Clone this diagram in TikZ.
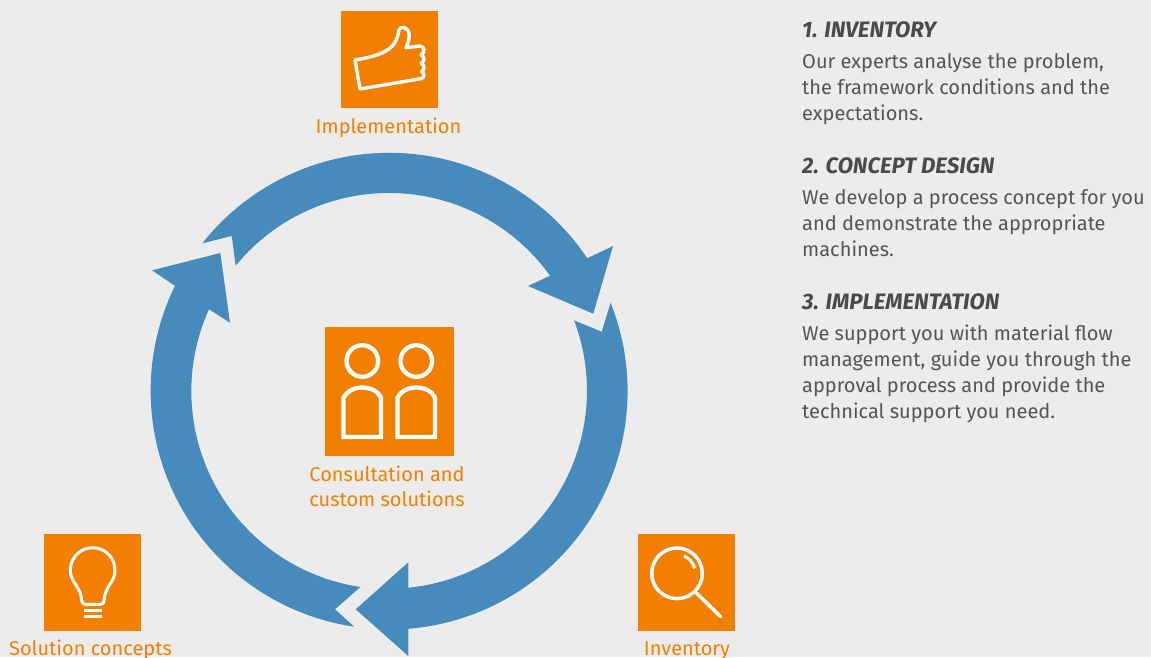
\documentclass[tikz,border=0pt]{standalone}
\usepackage{fontspec}
\setmainfont{Fira Sans}
\definecolor{bgrey}{HTML}{ECECEC}
\definecolor{cycleblue}{HTML}{478BBD}
\definecolor{tileorange}{HTML}{F27F00}
\definecolor{bodygrey}{HTML}{555555}
\definecolor{headgrey}{HTML}{4A4A4A}
\tikzset{
  cyclearrow/.style={fill=cycleblue,draw=none},
  tile/.style={fill=tileorange,draw=none,inner sep=0pt,outer sep=0pt,minimum width=97pt,minimum height=97pt},
  icon/.style={draw=white,line width=#1,line join=round,line cap=round},
  icon/.default=3.4pt,
  ticon/.style={draw=white,line width=4.3pt,line join=miter},
  tilelabel/.style={text=tileorange,font=\fontsize{20}{25}\selectfont,inner sep=0pt,align=center},
  sidehead/.style={text=headgrey,font=\fontsize{22.3}{26}\selectfont\bfseries\itshape,inner sep=0pt,anchor=base west},
  sidebody/.style={text=bodygrey,font=\fontsize{20}{26}\selectfont,inner sep=0pt,anchor=north west,align=left},
}
\begin{document}
\begin{tikzpicture}[x=1pt,y=-1pt]
\useasboundingbox (0,0) rectangle (1151,657);
\fill[bgrey] (0,0) rectangle (1151,657);
% cycle arrows (centre 389,391; radii 238.5 and 198)
\fill[cyclearrow] (202.3,243.3) arc[start angle=141.65,end angle=33.9,radius=238.5pt]
  -- (613,246) -- (593.3,313.7) -- (528,286) -- (550,275.7)
  arc[start angle=35.6,end angle=140.75,radius=198pt] -- (231.7,236) -- cycle;
\fill[cyclearrow] (610.6,302.7) arc[start angle=21.75,end angle=-85.36,radius=238.5pt]
  -- (408.3,656) -- (355.7,609.3) -- (408.3,562.3) -- (408.3,587.7)
  arc[start angle=-84.4,end angle=20.8,radius=198pt] -- (601.7,331.7) -- cycle;
\fill[cyclearrow] (354.3,626.7) arc[start angle=261.6,end angle=153.9,radius=238.5pt]
  -- (152,270.3) -- (220.3,253) -- (230,322.7) -- (209,309.3)
  arc[start angle=155.6,end angle=261.6,radius=198pt] -- (335,609.3) -- cycle;
% tiles
\node[tile] (impl) at (389.5,59.5) {};
\node[tile,minimum width=129pt,minimum height=129pt] (cons) at (389.5,391.5) {};
\node[tile] (sol) at (92.5,582.5) {};
\node[tile] (inv) at (686.5,582.5) {};
% thumb icon
\draw[icon] (360,89) -- (355,60) .. controls (372,57) and (385,54) .. (393.3,45)
  .. controls (397,40) and (398,35) .. (399,30) .. controls (400,26) and (407,26) .. (409,33)
  .. controls (410,38) and (408,43) .. (406,47.7) -- (420,46)
  .. controls (424,46) and (426,52) .. (421,55) .. controls (425,56) and (425,62) .. (421,63.3)
  .. controls (425,65) and (425,70) .. (421.5,71.5) .. controls (425,73) and (425,78) .. (420.7,78.7)
  -- cycle;
% people icon
\draw[ticon] (362.3,361) circle[radius=15.8pt];
\draw[ticon] (416.3,361) circle[radius=15.8pt];
\draw[ticon] (343.5,437) -- (343.5,397.5) .. controls (347,391) and (354,387.5) .. (362.3,387.5)
  .. controls (370.5,387.5) and (378,391) .. (381,397.5) -- (381,437) -- cycle;
\draw[ticon] (397.5,437) -- (397.5,397.5) .. controls (401,391) and (408,387.5) .. (416.3,387.5)
  .. controls (424.5,387.5) and (432,391) .. (435,397.5) -- (435,437) -- cycle;
% bulb icon
\draw[icon=3pt] (81.7,600) .. controls (81,593) and (78.5,589) .. (75.6,584.3)
  arc[start angle=220,end angle=-40,radius=22.3pt]
  .. controls (107,589) and (104.5,594) .. (104,600)
  .. controls (104,604) and (102,604.3) .. (100,604.3) -- (85,604.3)
  .. controls (83,604.3) and (82,603) .. (81.7,600) -- cycle;
\draw[draw=white,line width=3pt] (84,610.7) -- (101.7,610.7) (84,616.7) -- (101.7,616.7);
% magnifier icon
\draw[icon=3.5pt] (677,573.3) circle[radius=25.3pt];
\draw[icon=3.5pt] (696.7,593.3) -- (720.7,616.7);
\draw[icon=3pt,line cap=butt] (684,556) arc[start angle=68,end angle=14,radius=18pt];
% tile labels
\node[tilelabel,anchor=base] (implL) at (388.5,133) {Implementation};
\node[tilelabel,anchor=north] (consL) at (387,466) {Consultation and\\custom solutions};
\node[tilelabel,anchor=base] (solL) at (90.5,655) {Solution concepts};
\node[tilelabel,anchor=base] (invL) at (687,655) {Inventory};
% side text
\node[sidehead] (h1) at (802,37) {1. INVENTORY};
\node[sidebody] (b1) at (802,53) {Our experts analyse the problem,\\the framework conditions and the\\expectations.};
\node[sidehead] (h2) at (802,173) {2. CONCEPT DESIGN};
\node[sidebody] (b2) at (802,189) {We develop a process concept for you\\and demonstrate the appropriate\\machines.};
\node[sidehead] (h3) at (802,309) {3. IMPLEMENTATION};
\node[sidebody] (b3) at (802,325) {We support you with material flow\\management, guide you through the\\approval process and provide the\\technical support you need.};
\end{tikzpicture}
\end{document}
